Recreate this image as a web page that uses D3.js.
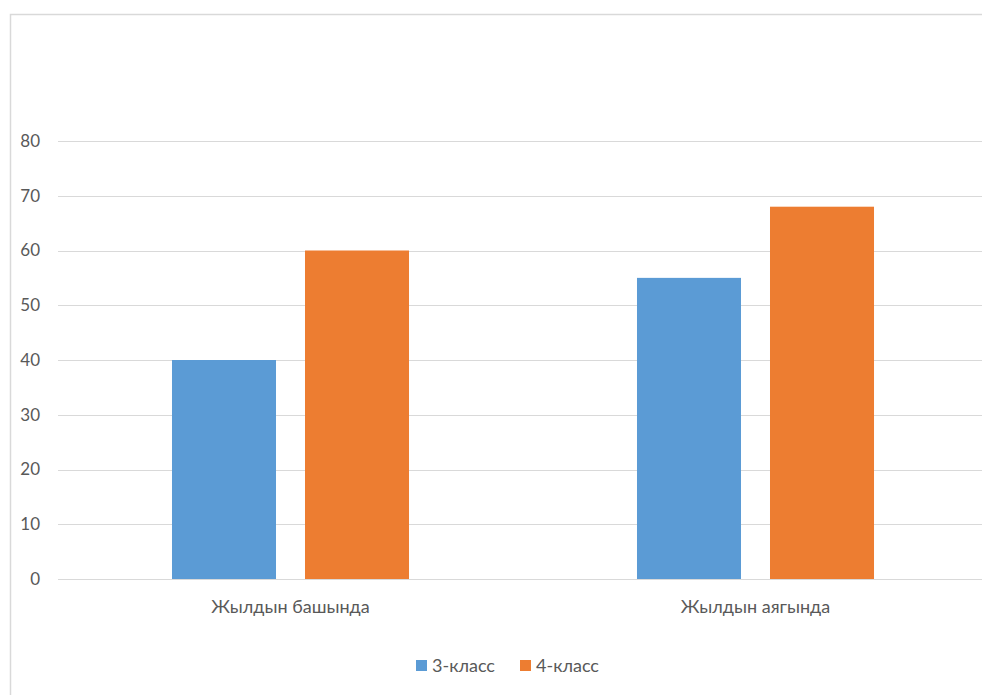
<!DOCTYPE html>
<html>
<head>
<meta charset="utf-8">
<script src="https://cdn.jsdelivr.net/npm/d3@7"></script>
<style>
  body { margin: 0; background: #fff; }
  svg { display: block; font-family: Lato, "Open Sans", sans-serif; }
</style>
</head>
<body>
<svg id="chart" width="982" height="695"></svg>
<script>
// data
var categories = ["Жылдын башында", "Жылдын аягында"];
var seriesNames = ["3-класс", "4-класс"];
var class3 = [40, 55];
var class4 = [60, 68];
var yTicks = [0, 10, 20, 30, 40, 50, 60, 70, 80];
var colors = ["#5b9bd5", "#ed7d31"];

var svg = d3.select("#chart");

// chart frame
svg.append("rect")
    .attr("x", 10.5).attr("y", 14.5)
    .attr("width", 1000).attr("height", 700)
    .attr("fill", "none")
    .attr("stroke", "#d9d9d9")
    .attr("stroke-width", 1.5);

var plotLeft = 58, plotRight = 988, plotTop = 141, plotBottom = 579;

var x = d3.scaleBand().domain(categories).range([plotLeft, plotRight]).paddingInner(0).paddingOuter(0);
var y = d3.scaleLinear().domain([0, 80]).range([plotBottom, plotTop]);

// grid lines
svg.append("g").selectAll("line")
    .data(yTicks)
    .join("line")
    .attr("x1", plotLeft).attr("x2", 982)
    .attr("y1", d => Math.round(y(d)) + 0.5)
    .attr("y2", d => Math.round(y(d)) + 0.5)
    .attr("stroke", "#d9d9d9")
    .attr("stroke-width", 1);

// y tick labels
svg.append("g").selectAll("text")
    .data(yTicks)
    .join("text")
    .attr("x", 40)
    .attr("y", d => y(d))
    .attr("dy", "0.35em")
    .attr("text-anchor", "end")
    .attr("fill", "#595959")
    .style("font-size", "17px")
    .text(d => d);

// bars, two per category
var inner = d3.scaleBand().domain([0, 1]).range([0, x.bandwidth()]).paddingInner(0.218).paddingOuter(0.857);
var rows = [];
categories.forEach(function (c, i) {
    rows.push({ cat: c, s: 0, v: class3[i] });
    rows.push({ cat: c, s: 1, v: class4[i] });
});

svg.append("g").selectAll("rect")
    .data(rows)
    .join("rect")
    .attr("x", d => x(d.cat) + inner(d.s))
    .attr("y", d => y(d.v))
    .attr("width", inner.bandwidth())
    .attr("height", d => y(0) - y(d.v))
    .attr("fill", d => colors[d.s]);

// category labels
svg.append("g").selectAll("text")
    .data(categories)
    .join("text")
    .attr("x", d => x(d) + x.bandwidth() / 2)
    .attr("y", 613)
    .attr("text-anchor", "middle")
    .attr("fill", "#595959")
    .style("font-size", "18px")
    .text(d => d);

// legend
var legend = svg.append("g").attr("transform", "translate(416,665)");
var lx = [0, 104];
seriesNames.forEach(function (n, i) {
    legend.append("rect")
        .attr("x", lx[i]).attr("y", -5)
        .attr("width", 11).attr("height", 11)
        .attr("fill", colors[i]);
    legend.append("text")
        .attr("x", lx[i] + 16).attr("y", 0)
        .attr("dy", "0.4em")
        .attr("fill", "#595959")
        .style("font-size", "18px")
        .text(n);
});
</script>
</body>
</html>
